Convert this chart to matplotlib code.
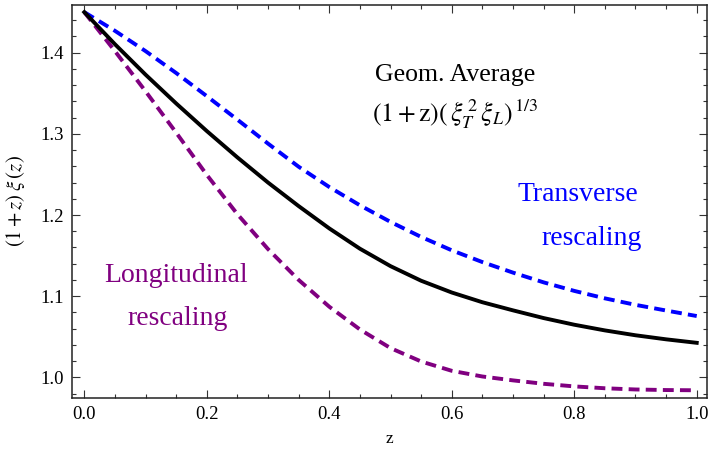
import matplotlib
matplotlib.use("Agg")
import matplotlib.pyplot as plt
from matplotlib.ticker import MultipleLocator, FormatStrFormatter

plt.rcParams['font.family'] = ['Liberation Serif', 'DejaVu Serif']
plt.rcParams['mathtext.fontset'] = 'stix'

# redshift grid and the three rescaled correlation curves
z = [0.0, 0.05, 0.1, 0.15, 0.2, 0.25, 0.3, 0.35, 0.4, 0.45, 0.5,
     0.55, 0.6, 0.65, 0.7, 0.75, 0.8, 0.85, 0.9, 0.95, 1.0]
transverse = [1.450, 1.427, 1.402, 1.375, 1.3465, 1.3175, 1.288, 1.2595, 1.2345, 1.212, 1.1915,
              1.173, 1.1565, 1.142, 1.129, 1.117, 1.1065, 1.0973, 1.0893, 1.0823, 1.0755]
geom_avg = [1.450, 1.4105, 1.373, 1.3375, 1.3035, 1.271, 1.240, 1.211, 1.1835, 1.1585, 1.137,
            1.119, 1.1045, 1.0925, 1.0825, 1.073, 1.0648, 1.0578, 1.0518, 1.0468, 1.0425]
longitudinal = [1.450, 1.402, 1.3525, 1.3015, 1.2495, 1.201, 1.158, 1.120, 1.087, 1.059, 1.036,
                1.0195, 1.008, 1.001, 0.9962, 0.992, 0.9888, 0.9865, 0.985, 0.9843, 0.984]

purple = (0.5, 0.0, 0.5)

fig = plt.figure(figsize=(7.08, 4.55), dpi=100)
ax = fig.add_axes([0.1021, 0.126, 0.8965, 0.863])

ax.plot(z, transverse, color='blue', lw=2.8, dashes=(2.8, 1.6), dash_capstyle='butt')
ax.plot(z, longitudinal, color=purple, lw=2.8, dashes=(2.8, 1.6), dash_capstyle='butt')
ax.plot(z, geom_avg, color='black', lw=2.8)

ax.set_xlim(-0.0196, 1.0168)
ax.set_ylim(0.9749, 1.4588)

ax.xaxis.set_major_locator(MultipleLocator(0.2))
ax.xaxis.set_minor_locator(MultipleLocator(0.05))
ax.yaxis.set_major_locator(MultipleLocator(0.1))
ax.yaxis.set_minor_locator(MultipleLocator(0.02))
ax.xaxis.set_major_formatter(FormatStrFormatter('%.1f'))
ax.yaxis.set_major_formatter(FormatStrFormatter('%.1f'))

ax.tick_params(which='both', direction='in', top=True, right=True,
               labelsize=13.5, color='#333333', width=0.8)
ax.tick_params(which='major', length=5.5, pad=6)
ax.tick_params(which='minor', length=3)
for s in ax.spines.values():
    s.set_linewidth(1.1)
    s.set_color('#222222')

ax.set_xlabel('z', fontsize=12.5, labelpad=6)
ax.set_ylabel(r'$(1+z)\;\xi\,(z)$', fontsize=15, labelpad=10)

ax.text(0.605, 1.3725, 'Geom. Average', fontsize=18.5, ha='center', va='center')
ax.text(0.605, 1.3245, r'$(1+\mathrm{z})(\,\xi_T^{\,2}\,\xi_L)^{\,1/3}$', fontsize=18.5,
        ha='center', va='center')
ax.text(0.806, 1.2247, 'Transverse', fontsize=20, color='blue', ha='center', va='center')
ax.text(0.829, 1.1714, 'rescaling', fontsize=20, color='blue', ha='center', va='center')
ax.text(0.150, 1.126, 'Longitudinal', fontsize=20, color=purple, ha='center', va='center')
ax.text(0.153, 1.073, 'rescaling', fontsize=20, color=purple, ha='center', va='center')

fig.savefig('out.png', dpi=100)
